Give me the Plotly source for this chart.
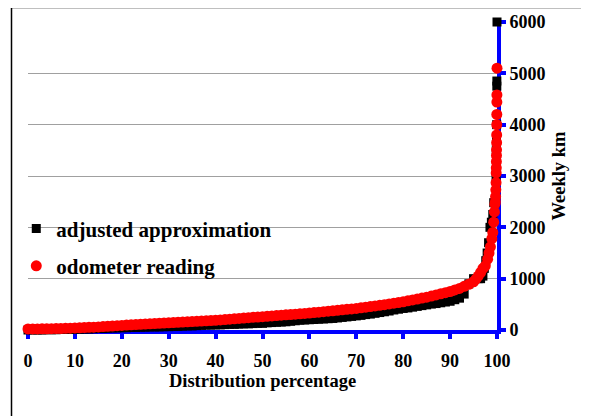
import plotly.graph_objects as go

# ---- data ----
adj_pct = [0, 1, 2, 3, 4, 5, 6, 7, 8, 9,
           10, 11, 12, 13, 14, 15, 16, 17, 18, 19,
           20, 21, 22, 23, 24, 25, 26, 27, 28, 29,
           30, 31, 32, 33, 34, 35, 36, 37, 38, 39,
           40, 41, 42, 43, 44, 45, 46, 47, 48, 49,
           50, 51, 52, 53, 54, 55, 56, 57, 58, 59,
           60, 61, 62, 63, 64, 65, 66, 67, 68, 69,
           70, 71, 72, 73, 74, 75, 76, 77, 78, 79,
           80, 81, 82, 83, 84, 85, 86, 87, 88, 89,
           90, 91, 92, 93, 94, 95, 96, 96.5, 97, 97.3, 97.6, 97.9,
           98.2, 98.5, 98.8, 99.1, 99.3, 99.6, 99.8, 99.85, 99.9, 99.93,
           99.96, 99.97, 100]
adj_km = [0, 0, 0, 0, 5, 5, 5, 10, 10, 10,
          15, 15, 20, 20, 25, 30, 30, 35, 40, 40,
          45, 45, 50, 50, 55, 55, 60, 60, 60, 65,
          65, 70, 70, 75, 80, 80, 85, 90, 95, 95,
          100, 100, 105, 110, 110, 115, 120, 120, 125, 130,
          130, 140, 145, 150, 155, 160, 170, 180, 190, 195,
          200, 205, 210, 215, 220, 225, 235, 245, 255, 265,
          275, 285, 300, 310, 325, 340, 355, 370, 390, 405,
          420, 430, 445, 460, 475, 490, 505, 515, 530, 545,
          560, 590, 620, 700, 900, 1000, 1000, 1000, 1050, 1200, 1350, 1500,
          1700, 2000, 2100, 2250, 2480, 2480, 3000, 3510, 3770, 4000,
          4750, 4850, 6000]

odo_pct = [0, 1, 2, 3, 4, 5, 6, 7, 8, 9,
           10, 11, 12, 13, 14, 15, 16, 17, 18, 19,
           20, 21, 22, 23, 24, 25, 26, 27, 28, 29,
           30, 31, 32, 33, 34, 35, 36, 37, 38, 39,
           40, 41, 42, 43, 44, 45, 46, 47, 48, 49,
           50, 51, 52, 53, 54, 55, 56, 57, 58, 59,
           60, 61, 62, 63, 64, 65, 66, 67, 68, 69,
           70, 71, 72, 73, 74, 75, 76, 77, 78, 79,
           80, 81, 82, 83, 84, 85, 86, 87, 88, 89,
           90, 91, 92, 93, 94, 95, 95.5, 96, 96.5, 97, 97.5, 98,
           98.3, 98.6, 98.9, 99.1, 99.3, 99.45, 99.55, 99.65, 99.7, 99.75,
           99.8, 99.83, 99.85, 99.87, 99.89, 99.9, 99.92, 99.93, 99.95, 99.96,
           99.97, 99.98, 100]
odo_km = [20, 20, 21, 22, 23, 25, 27, 29, 32, 36,
          40, 44, 48, 52, 56, 60, 66, 72, 78, 84,
          90, 95, 100, 105, 110, 115, 120, 125, 130, 135,
          140, 145, 150, 155, 160, 165, 170, 175, 180, 185,
          190, 197, 204, 211, 218, 225, 232, 239, 246, 253,
          260, 267, 274, 281, 288, 295, 302, 309, 316, 323,
          330, 339, 348, 357, 366, 375, 384, 393, 402, 411,
          420, 432, 444, 456, 468, 480, 494, 508, 522, 536,
          550, 568, 586, 604, 622, 640, 662, 684, 706, 728,
          750, 780, 810, 850, 890, 940, 990, 1050, 1120, 1200, 1250, 1380,
          1500, 1620, 1780, 1900, 2100, 2300, 2450, 2500, 2600, 2730,
          2870, 3060, 3160, 3280, 3400, 3510, 3650, 3800, 4000, 4200,
          4440, 4580, 5100]

x_ticks = [0, 10, 20, 30, 40, 50, 60, 70, 80, 90, 100]
y_ticks = [0, 1000, 2000, 3000, 4000, 5000, 6000]

FONT = "Times New Roman, Liberation Serif, serif"

fig = go.Figure()
fig.add_trace(go.Scatter(
    x=adj_pct, y=adj_km, mode="markers", name="adjusted approximation",
    legendgroup="a",
    marker=dict(symbol="square", size=9, color="black"),
    cliponaxis=False,
))
fig.add_trace(go.Scatter(
    x=odo_pct, y=odo_km, mode="markers", name="odometer reading",
    legendgroup="b",
    marker=dict(symbol="circle", size=11, color="#ff0000"),
    cliponaxis=False,
))

# the page body has an 8px default margin, so the figure is offset by 8px
fig.update_layout(
    width=581, height=408,
    margin=dict(l=20, r=92, t=14, b=86, autoexpand=False),
    paper_bgcolor="white", plot_bgcolor="white",
    font=dict(family=FONT, color="black"),
    showlegend=True,
    legend=dict(
        x=-0.025, y=0.395, xanchor="left", yanchor="top",
        bgcolor="rgba(0,0,0,0)",
        font=dict(family=FONT, size=21, color="black", weight="bold"),
        tracegroupgap=7, traceorder="grouped",
    ),
    xaxis=dict(
        range=[0, 100], tickvals=x_ticks, ticktext=[str(v) for v in x_ticks],
        automargin=False,
        showgrid=False, zeroline=False,
        showline=True, linecolor="#0000ff", linewidth=4,
        ticks="outside", ticklen=5, tickwidth=4, tickcolor="#0000ff",
        ticklabelstandoff=6,
        tickfont=dict(family=FONT, size=18, color="black", weight="bold"),
        title=dict(text="Distribution percentage",
                   font=dict(family=FONT, size=18.5, color="black", weight="bold"),
                   standoff=1),
        layer="below traces",
    ),
    yaxis=dict(
        range=[0, 6000], tickvals=y_ticks, ticktext=[str(v) for v in y_ticks],
        automargin=False,
        side="right",
        showgrid=True, gridcolor="#a0a0a0", gridwidth=1.2,
        zeroline=False,
        showline=True, linecolor="#0000ff", linewidth=4,
        ticks="outside", ticklen=5, tickwidth=4, tickcolor="#0000ff",
        tickfont=dict(family=FONT, size=18, color="black", weight="bold"),
        title=dict(text="Weekly km",
                   font=dict(family=FONT, size=18.5, color="black", weight="bold"),
                   standoff=8),
        layer="below traces",
    ),
    shapes=[dict(
        type="rect", xref="paper", yref="paper",
        x0=(3.5 - 20) / 469, x1=1.3, y0=-0.5, y1=(322 + 0.5) / 308,
        line=dict(color="black", width=1.5), fillcolor="rgba(0,0,0,0)",
        layer="below",
    )],
)

fig.write_html("out.html")
